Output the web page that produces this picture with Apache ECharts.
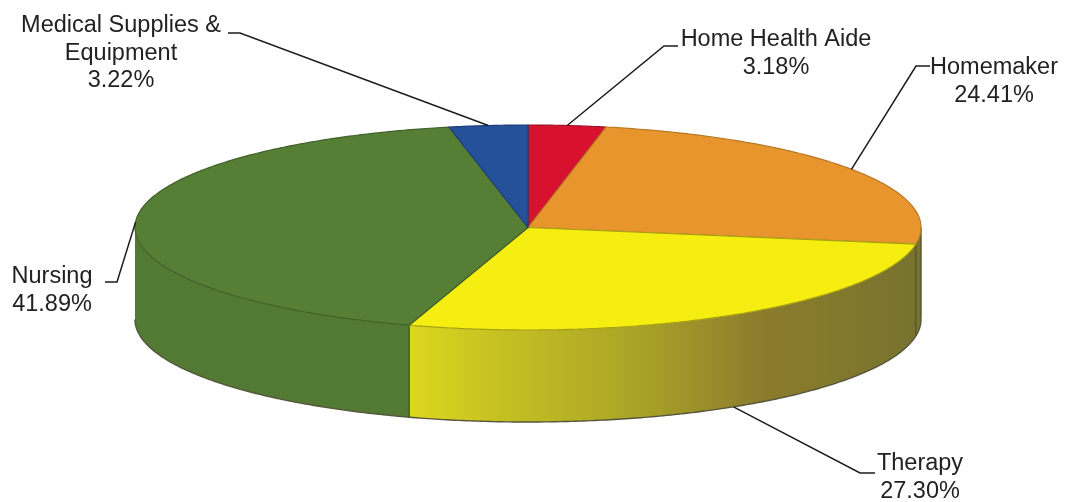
<!DOCTYPE html>
<html>
<head>
<meta charset="utf-8">
<style>
  html, body { margin: 0; padding: 0; background: #fff; }
  #chart { width: 1065px; height: 502px; }
</style>
<script src="https://cdn.jsdelivr.net/npm/echarts@6/dist/echarts.min.js"></script>
</head>
<body>
<div id="chart"></div>
<script>
// Share of services, starting at twelve o'clock and running clockwise.
const categories = ['Home Health Aide', 'Homemaker', 'Therapy', 'Nursing', 'Medical Supplies & Equipment'];
const shares = [3.18, 24.41, 27.30, 41.89, 3.22];
const labelLines = [
  ['Home Health Aide'],
  ['Homemaker'],
  ['Therapy'],
  ['Nursing'],
  ['Medical Supplies &', 'Equipment']
];

// Disc geometry on the page.
const disc = { cx: 528, cy: 227.5, rx: 393, ry: 102.5, depth: 92 };

const topColors = ['#D8122E', '#E8952E', '#F6EE10', '#567F35', '#25509A'];
const sideColors = ['#A00F24', '#7A7230', null, '#527A35', '#1C3E78'];
const edgeColors = ['#A01028', '#B87822', '#A8A014', '#3E6029', '#1E3E78'];

// Label block centres and the elbow of each leader line.
const labelCentres = [[776, 40], [994, 68], [920, 464], [52, 277], [121, 26]];
const leaderElbows = [
  [[678, 46], [664, 46]],
  [[930, 66], [916, 66]],
  [[875, 473], [860, 473]],
  [[105, 282], [117, 282]],
  [[228, 33], [240, 33]]
];

const total = shares.reduce((a, b) => a + b, 0);
const toAngle = v => (v / total) * Math.PI * 2;

function sliceAngles(i) {
  let start = 0;
  for (let k = 0; k < i; k++) start += toAngle(shares[k]);
  return [start, start + toAngle(shares[i])];
}

// Point on the rim: angle 0 is the top of the ellipse, growing clockwise.
function rim(t, drop) {
  return [disc.cx + disc.rx * Math.sin(t), disc.cy - disc.ry * Math.cos(t) + (drop || 0)];
}

function arc(a, b, drop) {
  const n = Math.max(2, Math.ceil((b - a) / 0.01));
  const pts = [];
  for (let k = 0; k <= n; k++) pts.push(rim(a + (b - a) * k / n, drop));
  return pts;
}

function therapyWallFill() {
  return new echarts.graphic.LinearGradient(410, 0, 921, 0, [
    { offset: 0, color: '#DDD61E' },
    { offset: 0.2, color: '#C2BE22' },
    { offset: 0.45, color: '#A9A327' },
    { offset: 0.7, color: '#8A7A2C' },
    { offset: 0.8, color: '#857A2C' },
    { offset: 1, color: '#76722F' }
  ], true);
}

function renderWall(params, api) {
  const i = params.dataIndex;
  const [a0, a1] = sliceAngles(i);
  // Only the front half of the disc shows its side.
  const a = Math.max(a0, Math.PI / 2), b = Math.min(a1, Math.PI * 1.5);
  if (b <= a) return { type: 'group', children: [] };
  const top = arc(a, b, 0), bottom = arc(a, b, disc.depth).reverse();
  const fill = sideColors[i] || therapyWallFill();
  return {
    type: 'group',
    children: [
      { type: 'polygon', shape: { points: top.concat(bottom) }, style: { fill, stroke: null } },
      { type: 'polyline', shape: { points: bottom }, style: { fill: null, stroke: '#56563c', lineWidth: 1.4 } },
      { type: 'line', shape: { x1: rim(a)[0], y1: rim(a)[1], x2: rim(a, disc.depth)[0], y2: rim(a, disc.depth)[1] },
        style: { stroke: i === 3 ? '#3F5A22' : '#55552a', lineWidth: 1.4 } }
    ]
  };
}

function renderTop(params, api) {
  const i = params.dataIndex;
  const [a0, a1] = sliceAngles(i);
  const pts = [[disc.cx, disc.cy]].concat(arc(a0, a1, 0));
  return {
    type: 'polygon',
    shape: { points: pts },
    style: { fill: topColors[i], stroke: edgeColors[i], lineWidth: 1.2, lineJoin: 'round' }
  };
}

function renderLabel(params, api) {
  const i = params.dataIndex;
  const [a0, a1] = sliceAngles(i);
  const mid = (a0 + a1) / 2;
  // The leader of a front slice lands on the lower rim.
  const anchor = rim(mid, mid > Math.PI / 2 && mid < Math.PI * 1.5 ? disc.depth : 0);
  const lines = labelLines[i].concat([api.value(0).toFixed(2) + '%']);
  const [cx, cy] = labelCentres[i];
  const children = [{
    type: 'polyline',
    shape: { points: leaderElbows[i].concat([anchor]) },
    style: { fill: null, stroke: '#1c1c1c', lineWidth: 1.5 }
  }];
  lines.forEach((text, k) => {
    children.push({
      type: 'text',
      style: {
        x: cx, y: cy + k * 27.5, text,
        fill: '#222', font: '23.5px "Liberation Sans", Arial, sans-serif',
        align: 'center', verticalAlign: 'middle'
      }
    });
  });
  return { type: 'group', children };
}

const seriesData = categories.map((name, i) => ({ name, value: [shares[i]] }));
const layer = (renderItem, z) => ({
  type: 'custom', coordinateSystem: 'none', silent: true, animation: false,
  clip: false, z, data: seriesData, renderItem
});

const chart = echarts.init(document.getElementById('chart'), null, { renderer: 'canvas' });
chart.setOption({
  backgroundColor: '#ffffff',
  animation: false,
  tooltip: { show: false },
  series: [layer(renderWall, 1), layer(renderTop, 2), layer(renderLabel, 3)]
});
</script>
</body>
</html>
